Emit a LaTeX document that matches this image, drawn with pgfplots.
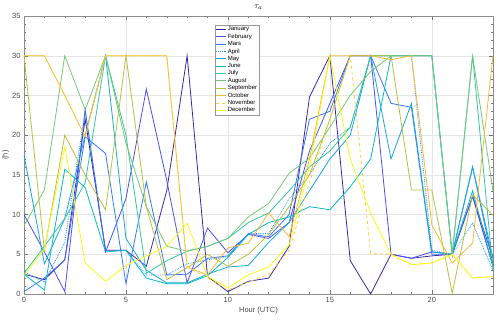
\documentclass[border=0pt]{standalone}
\usepackage{fontspec}
\setmainfont{Liberation Sans}
\usepackage{pgfplots}
\usepackage{pgfplotstable}
\pgfplotsset{compat=1.18}
\definecolor{c1}{rgb}{0.2422,0.1504,0.6603}
\definecolor{c2}{rgb}{0.2900,0.3100,0.9300}
\definecolor{c3}{rgb}{0.2200,0.4600,0.9900}
\definecolor{c4}{rgb}{0.1300,0.5700,0.9300}
\definecolor{c5}{rgb}{0.0700,0.6600,0.8700}
\definecolor{c6}{rgb}{0.0200,0.7200,0.7800}
\definecolor{c7}{rgb}{0.2000,0.7700,0.6300}
\definecolor{c8}{rgb}{0.4500,0.7900,0.4500}
\definecolor{c9}{rgb}{0.7200,0.7500,0.2400}
\definecolor{c10}{rgb}{0.9600,0.7200,0.2200}
\definecolor{c11}{rgb}{0.9800,0.8200,0.1800}
\definecolor{c12}{rgb}{0.9760,0.9800,0.0800}
\pgfplotstableread{
h  jan  feb  mar  apr  may  jun  jul  aug  sep  oct  nov  dec
0  2.5  10   0.3  2.8  17.5 2.5  2.6  8.6  30   30   30   2.3
1  1.8  5.3  2    1.5  3.8  0.5  6    13.1 5.5  30   30   5.7
2  4.3  0.3  4.3  6.5  9.5  15.7 9.5  30   20   25   25   18.5
3  22   23.2 19.8 23   20   13.4 14   23.2 15   19.8 19.8 3.9
4  5.5  5.3  17.7 5.5  30   5.3  30   30   10.6 30   30   1.6
5  5.5  12   1.3  5.5  7    5.5  20   19   30   30   30   3.6
6  3.5  25.8 14.1 2.4  3    2    2.6  11   11   30   30   4.8
7  13   14.3 2.4  2.4  1.4  1.3  4.2  6    1.8  30   30   6
8  30   1.4  2.5  3.8  1.4  1.3  5.4  5.4  3.3  3.4  3.4  8.9
9  2.2  8.3  4.5  4.3  2.5  2.3  6    6    5    2.4  2    2.2
10 0.3  5.2  4.8  4.7  3.4  4.6  7    7    3.5  5.8  0.5  0.8
11 1.6  7.5  7.6  7.6  3.6  7.5  9    9.7  5    6.4  1.5  2.4
12 2    7    7.2  7.6  6.5  9    10.2 11.4 7.5  10.2 2.5  3.4
13 6    9    10   12   9    9.7  13   15.2 11   7.2  5.5  6.2
14 24.8 18   22   15   13   11   16   17.1 15   17   14   16
15 30   24   23   19   17   10.6 18   21   22   30   22   30
16 4.2  30   30   21   20   13.5 21   25   30   30   30   17
17 0    30   30   30   30   17   30   28   30   30   5.1  10.2
18 5    5    24   30   17   30   30   30   30   29.5 5    5
19 4.5  4.5  23.5 30   24   30   30   30   13.1 30   3.7  3.7
20 4.8  5.3  5    5.5  5.3  30   30   30   13.1 8.7  3.9  3.9
21 5    5    5    5    5    5    5    5    0.1  3.9  5    5
22 12.3 12.3 16   8.9  16   13   30   30   12.5 6.4  2    2
23 3.5  4.5  3.8  3    4.5  3.4  3    13   9.9  30   2.2  2.2
}\data
\begin{document}
\begin{tikzpicture}
\path[use as bounding box] (-24pt,-25pt) rectangle (476pt,294pt);
\begin{axis}[
  at={(0pt,0pt)}, anchor=south west,
  scale only axis, width=469pt, height=278pt,
  xmin=0, xmax=23, ymin=0, ymax=35,
  xtick={0,5,10,15,20}, ytick={0,5,...,35},
  minor x tick num=4, minor y tick num=4,
  tick align=inside,
  major tick length=4pt, minor tick length=2pt,
  grid=major,
  major grid style={draw=black!10, line width=0.4pt},
  axis line style={draw=black!45, line width=0.5pt},
  every tick/.style={draw=black!55, line width=0.4pt},
  tick label style={font=\fontsize{7.5}{8}\selectfont, text=black!70},
  /pgf/number format/assume math mode=true,
  xlabel={Hour (UTC)}, ylabel={(h)},
  label style={font=\fontsize{7.5}{8}\selectfont, text=black!70},
  xlabel style={yshift=3pt},
  ylabel style={yshift=-4pt},
  title={$\tau_{a}$},
  title style={font=\fontsize{8}{9}\selectfont, yshift=-3pt},
  legend style={at={(0.407,0.968)}, anchor=north west,
    font=\fontsize{6}{6.5}\selectfont, draw=black!40, line width=0.4pt,
    inner sep=0.8pt, row sep=-0.2pt,
    nodes={inner sep=0.9pt}},
  legend cell align=left,
  legend image code/.code={\draw[#1, line width=1pt] (0pt,0pt) -- (10pt,0pt);},
  every axis plot/.append style={line width=0.8pt},
]
\addplot[c1] table[x=h,y=jan] {\data};
\addplot[c2] table[x=h,y=feb] {\data};
\addplot[c3] table[x=h,y=mar] {\data};
\addplot[c4, densely dotted] table[x=h,y=apr] {\data};
\addplot[c5] table[x=h,y=may] {\data};
\addplot[c6] table[x=h,y=jun] {\data};
\addplot[c7] table[x=h,y=jul] {\data};
\addplot[c8] table[x=h,y=aug] {\data};
\addplot[c9] table[x=h,y=sep] {\data};
\addplot[c10] table[x=h,y=oct] {\data};
\addplot[c11, dashed] table[x=h,y=nov] {\data};
\addplot[c12] table[x=h,y=dec] {\data};
\legend{January,February,Mars,April,May,June,July,August,September,October,November,December}
\end{axis}
\end{tikzpicture}
\end{document}
